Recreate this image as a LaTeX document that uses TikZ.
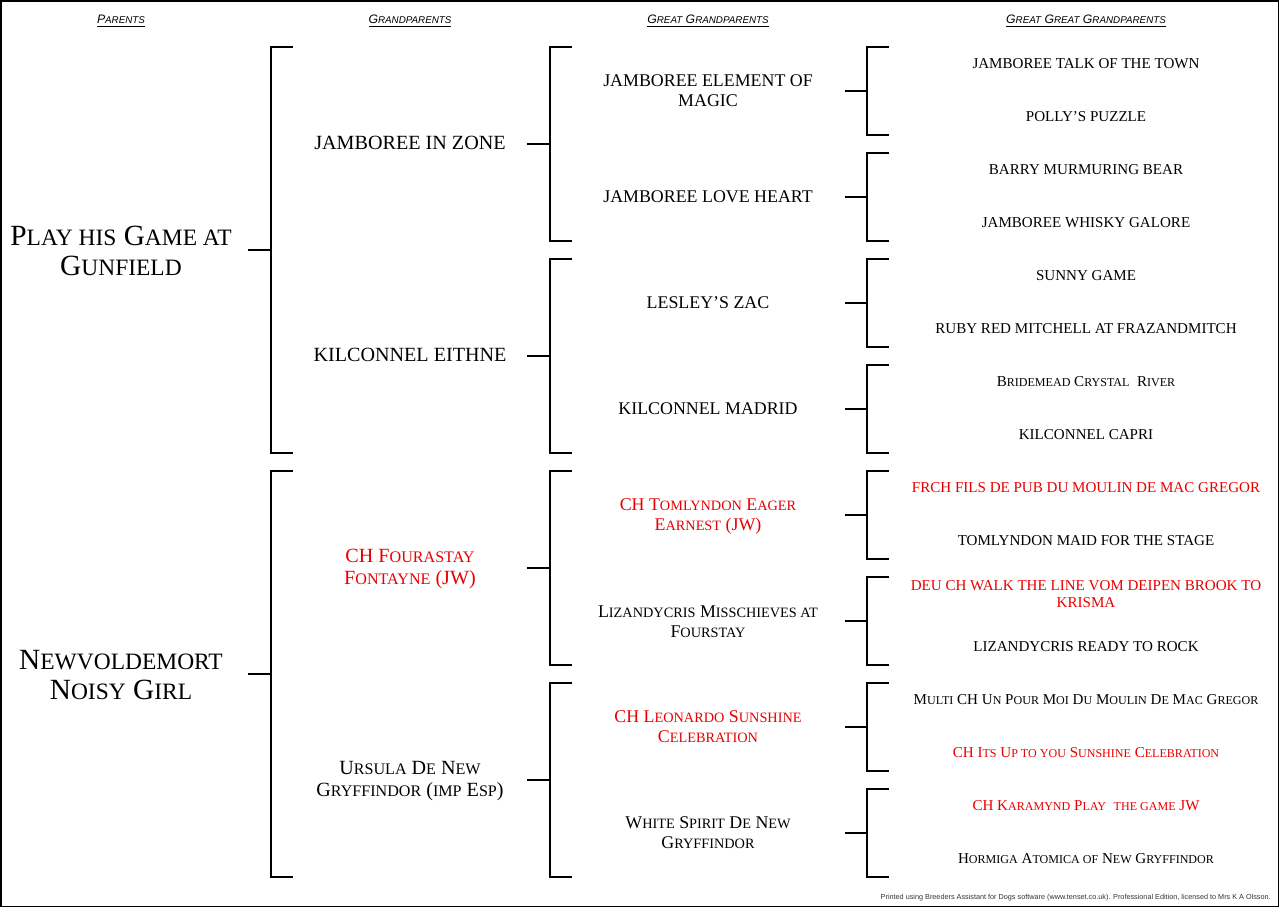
\documentclass[tikz,border=0pt]{standalone}
\usepackage{fontspec}
\setmainfont{Liberation Serif}
\setsansfont{Liberation Sans}
\makeatletter
\newcommand\lc[1]{{\fontsize{\strip@pt\dimexpr0.8\dimexpr\f@size pt\relax\relax}{\f@baselineskip}\selectfont #1}}
\makeatother
\definecolor{pred}{RGB}{232,0,0}
\tikzset{
  every node/.style={inner sep=0pt, align=center},
  par/.style={font=\fontsize{22}{22.5}\selectfont},
  gpar/.style={font=\fontsize{15.1}{17}\selectfont},
  ggpar/.style={font=\fontsize{13.4}{15}\selectfont},
  gggpar/.style={font=\fontsize{11.3}{12.75}\selectfont},
  hd/.style={font=\sffamily\itshape\fontsize{9.2}{11}\selectfont},
  foot/.style={font=\sffamily\fontsize{5.45}{6.5}\selectfont, text=black!80},
  ch/.style={text=pred},
  br/.style={line width=1.5pt},
}
\newcommand\bracket[5]{% xl, xv, xr, ytop, ybot
  \draw[br] (#1,{(#4+#5)/2}) -- (#2,{(#4+#5)/2});
  \draw[br] (#3,#4) -- (#2,#4) -- (#2,#5) -- (#3,#5);}
\begin{document}
\begin{tikzpicture}[x=0.75pt,y=-0.75pt]
\useasboundingbox (0,0) rectangle (1280,908);
\draw[line width=1.2pt] (0.8,0.8) rectangle (1278.6,906.6);

% headers
\node[hd] (h1) at (121,21) {\underline{P\lc{ARENTS}}};
\node[hd] (h2) at (410,21) {\underline{G\lc{RANDPARENTS}}};
\node[hd] (h3) at (708,21) {\underline{G\lc{REAT} G\lc{RANDPARENTS}}};
\node[hd] (h4) at (1086,21) {\underline{G\lc{REAT} G\lc{REAT} G\lc{RANDPARENTS}}};

% parents
\node[par] (p1) at (121,251) {P\lc{LAY HIS} G\lc{AME AT}\\G\lc{UNFIELD}};
\node[par] (p2) at (121,675) {N\lc{EWVOLDEMORT}\\N\lc{OISY} G\lc{IRL}};

% grandparents
\node[gpar] (g1) at (410,143) {JAMBOREE IN ZONE};
\node[gpar] (g2) at (410,355) {KILCONNEL EITHNE};
\node[gpar,ch] (g3) at (410,569) {CH F\lc{OURASTAY}\\F\lc{ONTAYNE} (JW)};
\node[gpar] (g4) at (410,781) {U\lc{RSULA} D\lc{E} N\lc{EW}\\G\lc{RYFFINDOR} (\lc{IMP} E\lc{SP})};

% great grandparents
\node[ggpar] (gg1) at (708,91) {JAMBOREE ELEMENT OF\\MAGIC};
\node[ggpar] (gg2) at (708,197) {JAMBOREE LOVE HEART};
\node[ggpar] (gg3) at (708,303) {LESLEY'S ZAC};
\node[ggpar] (gg4) at (708,409) {KILCONNEL MADRID};
\node[ggpar,ch] (gg5) at (708,516) {CH T\lc{OMLYNDON} E\lc{AGER}\\E\lc{ARNEST} (JW)};
\node[ggpar] (gg6) at (708,622) {L\lc{IZANDYCRIS} M\lc{ISSCHIEVES AT}\\F\lc{OURSTAY}};
\node[ggpar,ch] (gg7) at (708,727) {CH L\lc{EONARDO} S\lc{UNSHINE}\\C\lc{ELEBRATION}};
\node[ggpar] (gg8) at (708,833) {W\lc{HITE} S\lc{PIRIT} D\lc{E} N\lc{EW}\\G\lc{RYFFINDOR}};

% great great grandparents
\node[gggpar] (ggg1) at (1086,64) {JAMBOREE TALK OF THE TOWN};
\node[gggpar] (ggg2) at (1086,117) {POLLY'S PUZZLE};
\node[gggpar] (ggg3) at (1086,170) {BARRY MURMURING BEAR};
\node[gggpar] (ggg4) at (1086,223) {JAMBOREE WHISKY GALORE};
\node[gggpar] (ggg5) at (1086,276) {SUNNY GAME};
\node[gggpar] (ggg6) at (1086,329) {RUBY RED MITCHELL AT FRAZANDMITCH};
\node[gggpar] (ggg7) at (1086,382) {B\lc{RIDEMEAD} C\lc{RYSTAL}\ \ R\lc{IVER}};
\node[gggpar] (ggg8) at (1086,435) {KILCONNEL CAPRI};
\node[gggpar,ch] (ggg9) at (1086,488) {FRCH FILS DE PUB DU MOULIN DE MAC GREGOR};
\node[gggpar] (ggg10) at (1086,541) {TOMLYNDON MAID FOR THE STAGE};
\node[gggpar,ch] (ggg11) at (1086,594) {DEU CH WALK THE LINE VOM DEIPEN BROOK TO\\KRISMA};
\node[gggpar] (ggg12) at (1086,647) {LIZANDYCRIS READY TO ROCK};
\node[gggpar] (ggg13) at (1086,700) {M\lc{ULTI} CH U\lc{N} P\lc{OUR} M\lc{OI} D\lc{U} M\lc{OULIN} D\lc{E} M\lc{AC} G\lc{REGOR}};
\node[gggpar,ch] (ggg14) at (1086,753) {CH I\lc{TS} U\lc{P TO YOU} S\lc{UNSHINE} C\lc{ELEBRATION}};
\node[gggpar,ch] (ggg15) at (1086,806) {CH K\lc{ARAMYND} P\lc{LAY}\ \ \lc{THE GAME} JW};
\node[gggpar] (ggg16) at (1086,859) {H\lc{ORMIGA} A\lc{TOMICA OF} N\lc{EW} G\lc{RYFFINDOR}};

% brackets: parents -> grandparents
\bracket{248}{271}{293}{47}{453}
\bracket{248}{271}{293}{471}{877}
% grandparents -> great grandparents
\bracket{527}{550}{572}{47}{241}
\bracket{527}{550}{572}{259}{453}
\bracket{527}{550}{572}{471}{665}
\bracket{527}{550}{572}{683}{877}
% great grandparents -> great great grandparents
\foreach \t in {47,153,259,365,471,577,683,789}{
  \pgfmathsetmacro\b{\t+88}
  \bracket{845}{867}{889}{\t}{\b}
}

\node[foot, anchor=base east] (ft) at (1271,899) {Printed using Breeders Assistant for Dogs software (www.tenset.co.uk). Professional Edition, licensed to Mrs K A Olsson.};
\end{tikzpicture}
\end{document}
